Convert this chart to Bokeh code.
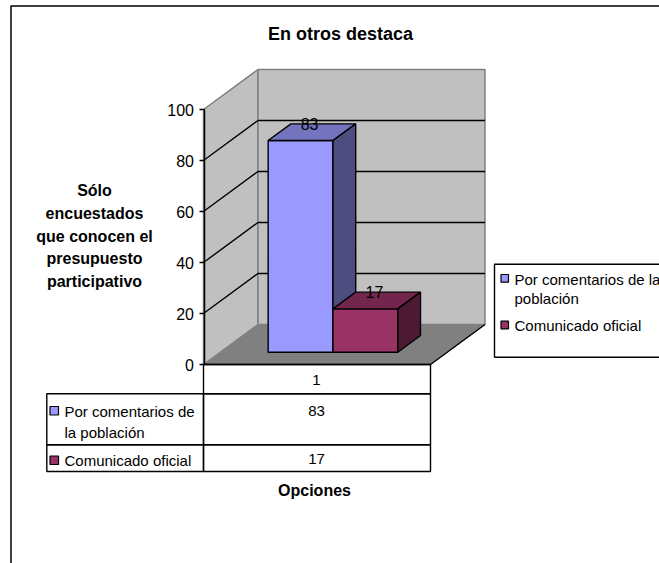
from bokeh.plotting import figure
from bokeh.models import Range1d, FixedTicker, Label, BoxAnnotation
from bokeh.core.properties import value
from bokeh.embed import file_html
from bokeh.resources import INLINE

TITLE = "En otros destaca"
YTITLE = ["Sólo", "encuestados", "que conocen el", "presupuesto", "participativo"]
XTITLE = "Opciones"
CATEGORY = "1"
YTICKS = [0, 20, 40, 60, 80, 100]
SERIES = ["Por comentarios de la población", "Comunicado oficial"]
VALUES = [83, 17]
FRONT = ["#9999FF", "#993366"]
TOP = ["#7373BF", "#73264D"]
SIDE = ["#4D4D80", "#4D1A33"]

FONT = "Liberation Sans"
W, H = 659, 563
Y0, PER = 364.0, 2.55


def v(py):
    return (Y0 - py) / PER


DX, DY = 54.5, 40.0


def pr(x, val, d):
    return x + DX * d, val + DY / PER * d


p = figure(width=W, height=H, output_backend="svg", toolbar_location=None,
           x_range=Range1d(0, W), y_range=Range1d(v(H), v(0)),
           min_border_left=0, min_border_right=0, min_border_top=0, min_border_bottom=0,
           outline_line_color=None, x_axis_location=None, y_axis_location="left")
p.grid.visible = False
ax = p.yaxis[0]
ax.fixed_location = 203.5
ax.ticker = FixedTicker(ticks=YTICKS)
ax.bounds = (YTICKS[0], YTICKS[-1])
ax.major_tick_in = 0
ax.major_tick_out = 5
ax.minor_tick_line_color = None
ax.axis_line_color = "#000000"
ax.axis_line_width = 1.5
ax.major_tick_line_color = "#000000"
ax.major_tick_line_width = 1.3
ax.major_label_text_font = FONT
ax.major_label_text_font_size = "16px"
ax.major_label_text_color = "#000000"
ax.major_label_standoff = 5

X_L, X_R = 203.0, 430.0
TOPV = YTICKS[-1]
# walls and floor
p.patch(*zip(pr(X_L, 0, 0), pr(X_L, 0, 1), pr(X_R, 0, 1), pr(X_R, 0, 0)), fill_color="#808080", line_color="#808080")
p.patch(*zip(pr(X_L, 0, 0), pr(X_L, TOPV, 0), pr(X_L, TOPV, 1), pr(X_L, 0, 1)), fill_color="#C0C0C0", line_color="#808080", line_width=1.5)
p.patch(*zip(pr(X_L, 0, 1), pr(X_L, TOPV, 1), pr(X_R, TOPV, 1), pr(X_R, 0, 1)), fill_color="#C0C0C0", line_color="#808080", line_width=1.5)
# gridlines on walls
for t in YTICKS[1:-1]:
    a, b, c = pr(X_L, t, 0), pr(X_L, t, 1), pr(X_R, t, 1)
    p.line([a[0], b[0], c[0]], [a[1], b[1], c[1]], line_color="#000000", line_width=1.4)

# bars
BAR_W = 64.8
D0, D1 = 0.3075, 0.725
x0 = 250.9
for i, val in enumerate(VALUES):
    xa, xb = x0 + i * BAR_W, x0 + (i + 1) * BAR_W
    f = [pr(xa, 0, D0), pr(xb, 0, D0), pr(xb, val, D0), pr(xa, val, D0)]
    p.patch(*zip(*f), fill_color=FRONT[i], line_color="#000000", line_width=1.4)
    t = [pr(xa, val, D0), pr(xb, val, D0), pr(xb, val, D1), pr(xa, val, D1)]
    p.patch(*zip(*t), fill_color=TOP[i], line_color="#000000", line_width=1.4)
    s = [pr(xb, 0, D0), pr(xb, 0, D1), pr(xb, val, D1), pr(xb, val, D0)]
    p.patch(*zip(*s), fill_color=SIDE[i], line_color="#000000", line_width=1.4)
    lx, ly = pr((xa + xb) / 2, val, D1)
    p.text([lx - 13.7], [ly], text=[str(val)], text_font=value(FONT), text_font_size="16px",
           text_align="center", text_baseline="middle", text_color="#000000")

# floor front edge and right edge
fl, fr, br = pr(X_L, 0, 0), pr(X_R, 0, 0), pr(X_R, 0, 1)
p.line([fl[0], fr[0], br[0]], [fl[1], fr[1], br[1]], line_color="#000000", line_width=1.4)


def box(l, r, t, b, fill=None, lw=1.4, col="#000000"):
    p.add_layout(BoxAnnotation(left=l, right=r, top=v(t), bottom=v(b), fill_color=fill,
                               fill_alpha=1 if fill else 0, line_color=col, line_width=lw,
                               line_alpha=1))


def lab(x, py, text, size="15px", bold=False, align="center"):
    p.add_layout(Label(x=x, y=v(py), text=text, text_font=FONT, text_font_size=size,
                       text_font_style="bold" if bold else "normal", text_align=align,
                       text_baseline="middle", text_color="#000000"))


# outer frame
box(10.5, 800, 5.5, 800, lw=1.5)

# data table
T_L, T_M, T_R = 46.3, 203.0, 430.0
R0, R1, R2, R3 = 364.0, 393.3, 444.3, 471.0
box(T_M, T_R, R0, R1)
box(T_L, T_M, R1, R2)
box(T_L, T_M, R2, R3)
box(T_M, T_R, R1, R2)
box(T_M, T_R, R2, R3)
lab(316, 379, CATEGORY)
lab(316, 410, str(VALUES[0]))
lab(316, 458, str(VALUES[1]))
box(49.5, 58, 406, 414.5, fill=FRONT[0], lw=1.2)
box(49.5, 58, 455.5, 464, fill=FRONT[1], lw=1.2)
lab(64, 411, "Por comentarios de", align="left")
lab(64, 432, "la población", align="left")
lab(64, 460, SERIES[1], align="left")

# titles
lab(340, 33, TITLE, size="18px", bold=True)
lab(314, 490, XTITLE, size="16px", bold=True)
for py, line in zip([190, 213, 236, 258, 281], YTITLE):
    lab(94, py, line, size="16px", bold=True)

# legend
box(494, 800, 263.7, 356.7)
box(500.5, 508, 274, 281.7, fill=FRONT[0], lw=1.2)
box(500.5, 508, 320.7, 328.3, fill=FRONT[1], lw=1.2)
lab(514, 279, "Por comentarios de la", align="left")
lab(514, 298, "población", align="left")
lab(514, 325, SERIES[1], align="left")

open("out.html", "w").write(file_html(p, INLINE))
